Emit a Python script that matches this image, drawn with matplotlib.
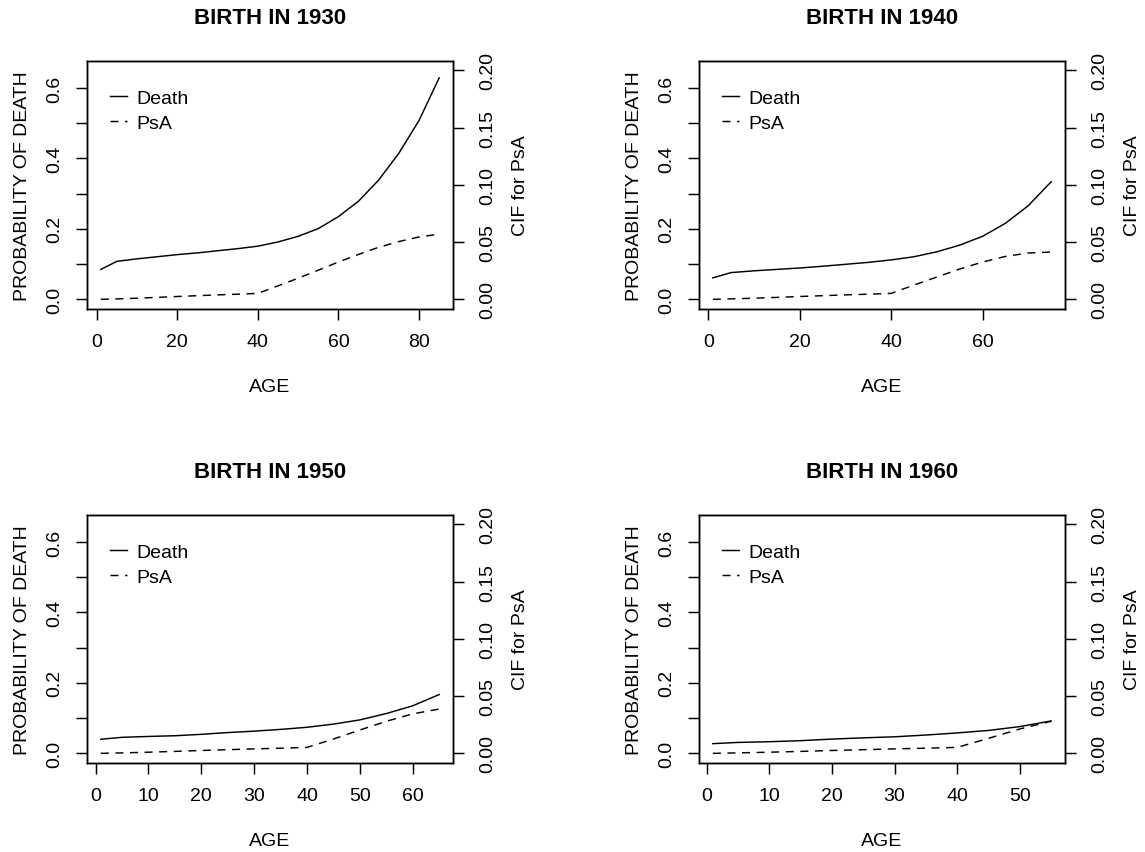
import matplotlib.pyplot as plt

plt.rcParams['font.family'] = ['Liberation Sans', 'DejaVu Sans']

W, H = 1145, 853

# cohort curves: age grid, probability of death (left axis), CIF for PsA (right axis)
titles = ["BIRTH IN 1930", "BIRTH IN 1940", "BIRTH IN 1950", "BIRTH IN 1960"]

age_1930 = [1, 5, 10, 15, 20, 25, 30, 35, 40, 45, 50, 55, 60, 65, 70, 75, 80, 85]
death_1930 = [0.085, 0.108, 0.115, 0.121, 0.127, 0.132, 0.138, 0.144, 0.151,
              0.163, 0.179, 0.201, 0.235, 0.279, 0.339, 0.415, 0.508, 0.629]
psa_1930 = [0.0, 0.0004, 0.0010, 0.0017, 0.0025, 0.0032, 0.0039, 0.0045, 0.0052,
            0.0118, 0.0185, 0.0255, 0.0326, 0.0393, 0.0455, 0.0505, 0.0545, 0.0570]

age_1940 = [1, 5, 10, 15, 20, 25, 30, 35, 40, 45, 50, 55, 60, 65, 70, 75]
death_1940 = [0.061, 0.076, 0.081, 0.085, 0.089, 0.094, 0.0995, 0.105, 0.112,
              0.121, 0.135, 0.154, 0.179, 0.216, 0.266, 0.334]
psa_1940 = [0.0, 0.0004, 0.0010, 0.0017, 0.0025, 0.0032, 0.0039, 0.0045, 0.0052,
            0.0125, 0.0195, 0.0265, 0.0326, 0.0375, 0.0405, 0.0413]

age_1950 = [1, 5, 10, 15, 20, 25, 30, 35, 40, 45, 50, 55, 60, 65]
death_1950 = [0.040, 0.0455, 0.048, 0.050, 0.054, 0.059, 0.063, 0.068, 0.074,
              0.083, 0.095, 0.113, 0.135, 0.167]
psa_1950 = [0.0, 0.0004, 0.0010, 0.0017, 0.0025, 0.0032, 0.0039, 0.0045, 0.0052,
            0.0125, 0.0204, 0.0280, 0.0345, 0.0387]

age_1960 = [1, 5, 10, 15, 20, 25, 30, 35, 40, 45, 50, 55]
death_1960 = [0.0275, 0.031, 0.033, 0.036, 0.0405, 0.044, 0.047, 0.052, 0.058,
              0.065, 0.076, 0.092]
psa_1960 = [0.0, 0.0004, 0.0010, 0.0017, 0.0025, 0.0032, 0.0039, 0.0045, 0.0052,
            0.0131, 0.0213, 0.0280]

ages = [age_1930, age_1940, age_1950, age_1960]
deaths = [death_1930, death_1940, death_1950, death_1960]
psas = [psa_1930, psa_1940, psa_1950, psa_1960]
xticks = [[0, 20, 40, 60, 80], [0, 20, 40, 60],
          [0, 10, 20, 30, 40, 50, 60], [0, 10, 20, 30, 40, 50]]

death_ticks = [0.0, 0.1, 0.2, 0.3, 0.4, 0.5, 0.6]
death_labels = ["0.0", "", "0.2", "", "0.4", "", "0.6"]
cif_ticks = [0.0, 0.05, 0.10, 0.15, 0.20]
cif_labels = ["0.00", "0.05", "0.10", "0.15", "0.20"]

FS = 14
LW = 1.05
DASH = (0, (5.5, 4.5))

# panel boxes in pixels: left, top
boxes = [(87.3, 62.3), (699.3, 62.3), (87.3, 516.3), (699.3, 516.3)]
bw, bh = 365.4, 247.2


def r_lim(lo, hi):
    # R-style 4% axis extension
    pad = 0.04 * (hi - lo)
    return lo - pad, hi + pad


fig = plt.figure(figsize=(W / 100, H / 100), dpi=100)

for i in range(4):
    left, top = boxes[i]
    ax = fig.add_axes([left / W, 1 - (top + bh) / H, bw / W, bh / H])
    ax2 = ax.twinx()

    l1, = ax.plot(ages[i], deaths[i], color='black', lw=LW, label="Death")
    l2, = ax2.plot(ages[i], psas[i], color='black', lw=LW, linestyle=DASH,
                   label="PsA")

    ax.set_xlim(*r_lim(min(ages[i]), max(ages[i])))
    ax.set_ylim(*r_lim(0, 0.65))
    ax2.set_ylim(*r_lim(0, 0.20))

    ax.set_xticks(xticks[i])
    ax.set_xticklabels([str(v) for v in xticks[i]], va='center')
    ax.set_yticks(death_ticks)
    ax.set_yticklabels(death_labels, rotation=90, ha='center', va='center')
    ax2.set_yticks(cif_ticks)
    ax2.set_yticklabels(cif_labels, rotation=90, ha='center', va='center')

    ax.tick_params(axis='x', length=8, width=LW, labelsize=FS, pad=15.5)
    ax.tick_params(axis='y', length=8, width=LW, labelsize=FS, pad=15.5)
    ax2.tick_params(axis='y', length=8, width=LW, labelsize=FS, pad=17)

    for sp in ax.spines.values():
        sp.set_linewidth(LW)
    for sp in ax2.spines.values():
        sp.set_linewidth(LW)

    ax.set_xlabel("AGE", fontsize=FS, va='center')
    ax.xaxis.set_label_coords(0.5, -78 / bh)
    ax.set_ylabel("PROBABILITY OF DEATH", fontsize=FS, va='center')
    ax.yaxis.set_label_coords(-65 / bw, 0.5)
    ax2.set_ylabel("CIF for PsA", fontsize=FS, rotation=90, va='center')
    ax2.yaxis.set_label_coords(1 + 68 / bw, 0.5)

    ax.text(0.5, 1 + 44 / bh, titles[i], transform=ax.transAxes,
            ha='center', va='center', fontsize=16, fontweight='bold')

    ax.legend([l1, l2], ["Death", "PsA"], loc='upper left',
              bbox_to_anchor=(0.062, 0.886), frameon=False, fontsize=FS,
              handlelength=0.9, handletextpad=0.48, labelspacing=0.37,
              borderpad=0, borderaxespad=0)

fig.savefig("out.png", dpi=100)
